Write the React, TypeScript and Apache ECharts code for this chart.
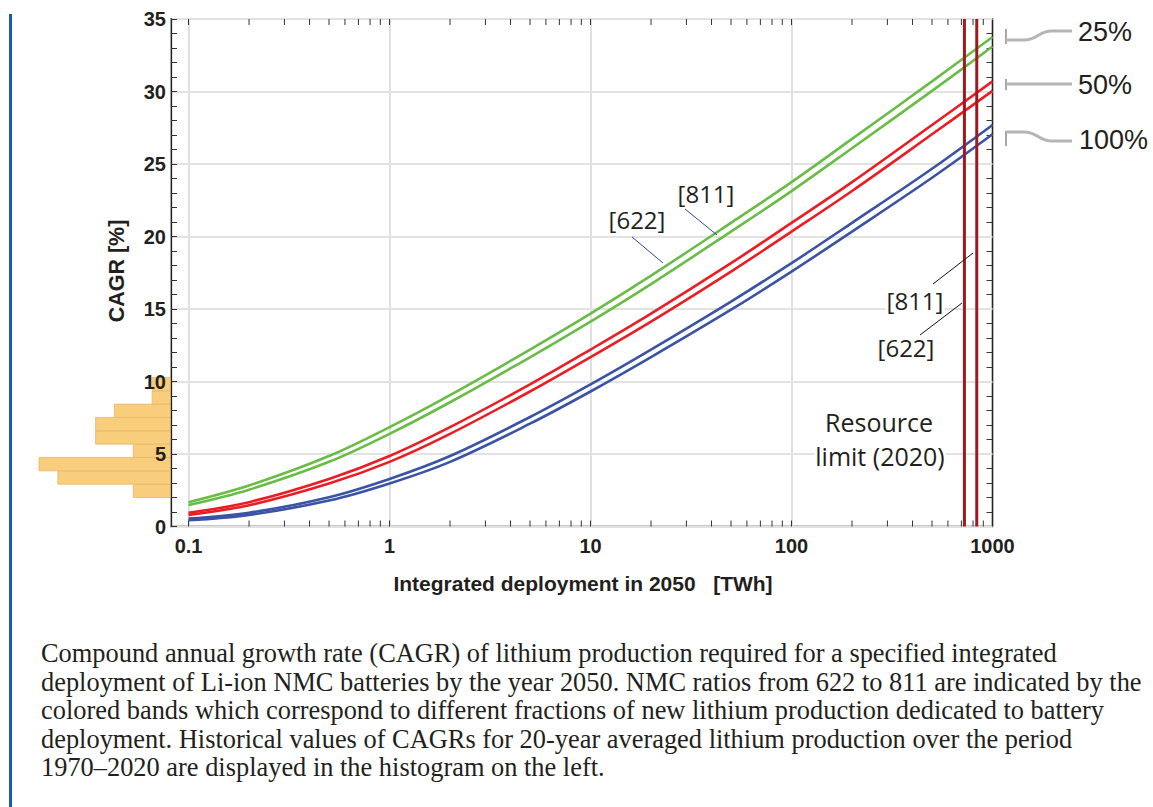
import React, { useEffect, useRef } from "react";
import * as echarts from "echarts";

// ---- axes ----
const X_MIN = 0.0818;
const X_MAX = 1000;
const Y_MIN = 0;
const Y_MAX = 35;
const Y_INTERVAL = 5;
const X_DECADES = [0.1, 1, 10, 100];
const X_MULTIPLIERS = [1, 2, 3, 4, 5, 6, 7, 8, 9];

// ---- curves: integrated deployment in 2050 [TWh] -> required CAGR [%] ----
const DEPLOYMENT_TWH = [0.1, 0.2, 0.5, 1, 2, 5, 10, 20, 50, 100, 200, 500, 1000];
const GREEN_622 = [1.68, 2.83, 4.86, 6.85, 9.06, 12.2, 14.68, 17.3, 20.94, 23.75, 26.73, 30.7, 33.76];
const GREEN_811 = [1.48, 2.54, 4.46, 6.39, 8.57, 11.67, 14.13, 16.72, 20.34, 23.13, 26.09, 30.04, 33.1];
const RED_622 = [0.95, 1.68, 3.28, 4.86, 6.85, 9.8, 12.2, 14.68, 18.16, 20.94, 23.75, 27.69, 30.7];
const RED_811 = [0.8, 1.47, 2.97, 4.46, 6.39, 9.31, 11.68, 14.13, 17.58, 20.34, 23.14, 27.05, 30.04];
const BLUE_622 = [0.55, 0.95, 2.02, 3.28, 4.86, 7.55, 9.8, 12.2, 15.51, 18.16, 20.94, 24.67, 27.69];
const BLUE_811 = [0.43, 0.8, 1.79, 2.97, 4.46, 7.09, 9.31, 11.68, 14.95, 17.58, 20.34, 24.05, 27.05];

// ---- resource limits (2020) [TWh] for 622 and 811 ----
const RESOURCE_LIMITS = [725, 835];

// ---- histogram of historical 20-year CAGRs ----
const HIST_EDGES = [2.0, 2.92, 3.84, 4.76, 5.68, 6.6, 7.52, 8.44, 9.36, 10.28];
const HIST_COUNTS = [2, 6, 7, 2, 4, 4, 3, 1, 1];
const HIST_MAX = 7;

const CAPTION = [
  "Compound annual growth rate (CAGR) of lithium production required for a specified integrated",
  "deployment of Li-ion NMC batteries by the year 2050. NMC ratios from 622 to 811 are indicated by the",
  "colored bands which correspond to different fractions of new lithium production dedicated to battery",
  "deployment. Historical values of CAGRs for 20-year averaged lithium production over the period",
  "1970–2020 are displayed in the histogram on the left.",
];

const GREEN = "#69BC45";
const RED = "#EC1C24";
const BLUE = "#3A53A4";
const DARKRED = "#9E1A1E";
const INK = "#231F20";
const SANS = '"Liberation Sans", Arial, sans-serif';
const HUMAN = '"Open Sans", "Noto Sans", sans-serif';
const SERIF = '"Liberation Serif", "Times New Roman", serif';
const GRAY = "#B4B5B9";

function curve(name: string, ys: number[], color: string) {
  return {
    type: "line",
    name,
    xAxisIndex: 0,
    yAxisIndex: 0,
    data: DEPLOYMENT_TWH.map((x, i) => [x, ys[i]]),
    smooth: 0.35,
    symbol: "none",
    showSymbol: false,
    lineStyle: { color, width: 2.6 },
    z: 3,
  };
}

export default function App() {
  const ref = useRef<HTMLDivElement>(null);

  useEffect(() => {
    if (!ref.current) return;
    const chart = echarts.init(ref.current, undefined, { renderer: "svg" });

    const tickValues: number[][] = [];
    X_DECADES.forEach((d) =>
      X_MULTIPLIERS.forEach((m) => tickValues.push([Number((d * m).toPrecision(6)), 0]))
    );

    const histData = HIST_COUNTS.map((c, i) => [HIST_EDGES[i], HIST_EDGES[i + 1], c]);

    const limitSeries = RESOURCE_LIMITS.map((v, i) => ({
      type: "line",
      name: "limit" + i,
      xAxisIndex: 0,
      yAxisIndex: 0,
      data: [
        [v, Y_MIN],
        [v, Y_MAX],
      ],
      symbol: "none",
      showSymbol: false,
      lineStyle: { color: DARKRED, width: 3 },
      z: 5,
    }));

    const t = (text: string, x: number, y: number, font: string, align = "center", extra: any = {}, bg = false) => ({
      type: "text",
      x,
      y,
      z: 100,
      silent: true,
      ...extra,
      style: {
        text,
        font,
        fill: INK,
        align,
        verticalAlign: "middle",
        ...(bg ? { backgroundColor: "#ffffff", padding: [0, 1] } : {}),
      },
    });
    const ln = (x1: number, y1: number, x2: number, y2: number, stroke: string, lineWidth: number) => ({
      type: "line",
      z: 100,
      silent: true,
      shape: { x1, y1, x2, y2 },
      style: { stroke, lineWidth },
    });
    const bz = (x1: number, y1: number, x2: number, y2: number) => ({
      type: "bezierCurve",
      z: 100,
      silent: true,
      shape: { x1, y1, x2, y2, cpx1: (x1 + x2) / 2, cpy1: y1, cpx2: (x1 + x2) / 2, cpy2: y2 },
      style: { stroke: GRAY, lineWidth: 3, fill: "none" },
    });

    const graphic: any[] = [
      { type: "rect", silent: true, shape: { x: 9, y: 14, width: 3, height: 793 }, style: { fill: "#1D5AA5" } },
      t("CAGR [%]", 117, 271, `bold 21.5px ${SANS}`, "center", { rotation: Math.PI / 2 }),
      t("Integrated deployment in 2050   [TWh]", 583, 583, `bold 21px ${SANS}`),
      // in-plot labels
      t("[811]", 706, 193, `24px ${HUMAN}`, "center", {}, true),
      t("[622]", 637, 219, `24px ${HUMAN}`, "center", {}, true),
      ln(685, 209, 717, 235, "#2B4A9B", 1),
      ln(632, 237, 663, 263, "#2B4A9B", 1),
      t("[811]", 915, 300, `24px ${HUMAN}`, "center", {}, true),
      t("[622]", 906, 347, `24px ${HUMAN}`, "center", {}, true),
      ln(933, 284, 973, 253, "#111", 1),
      ln(920, 335, 962, 303, "#111", 1),
      t("Resource", 879, 422, `25px ${HUMAN}`, "center", {}, true),
      t("limit (2020)", 880, 456, `25px ${HUMAN}`, "center", {}, true),
      // right-side fraction labels
      ln(1006, 29, 1006, 44, "#8A8A8D", 1.5),
      ln(1006, 40, 1024, 40, GRAY, 3),
      bz(1024, 40, 1052, 31),
      ln(1052, 31, 1072, 31, GRAY, 3),
      t("25%", 1078, 32, `27px ${SANS}`, "left"),
      ln(1006, 79, 1006, 90, "#8A8A8D", 1.5),
      ln(1006, 84, 1072, 84, GRAY, 3),
      t("50%", 1078, 85, `27px ${SANS}`, "left"),
      ln(1006, 131, 1006, 146, "#8A8A8D", 1.5),
      ln(1006, 132, 1024, 132, GRAY, 3),
      bz(1024, 132, 1052, 141),
      ln(1052, 141, 1072, 141, GRAY, 3),
      t("100%", 1079, 140, `27px ${SANS}`, "left"),
    ];
    CAPTION.forEach((line, i) => {
      graphic.push(t(line, 41, 653 + i * 28.6, `26.4px ${SERIF}`, "left"));
    });

    const option: any = {
      animation: false,
      backgroundColor: "#ffffff",
      textStyle: { fontFamily: SANS },
      grid: [
        {
          left: 171,
          top: 19,
          width: 821.5,
          height: 507.5,
          show: true,
          borderColor: "#222",
          borderWidth: 1.3,
          backgroundColor: "transparent",
        },
        { left: 39, top: 19, width: 132, height: 507.5, show: false },
      ],
      xAxis: [
        {
          type: "log",
          logBase: 10,
          gridIndex: 0,
          min: X_MIN,
          max: X_MAX,
          axisLine: { show: false },
          axisTick: { show: false },
          axisLabel: {
            showMinLabel: false,
            showMaxLabel: true,
            color: INK,
            fontSize: 20,
            fontWeight: "bold",
            fontFamily: SANS,
            margin: 9,
            formatter: (v: number) => String(Number(Number(v).toPrecision(6))),
          },
          splitLine: { show: true, lineStyle: { color: "#D6D6D6", width: 1.5 } },
        },
        { type: "value", gridIndex: 1, min: 0, max: HIST_MAX, inverse: true, show: false },
      ],
      yAxis: [
        {
          type: "value",
          gridIndex: 0,
          min: Y_MIN,
          max: Y_MAX,
          interval: Y_INTERVAL,
          z: 1,
          axisLine: { show: true, lineStyle: { color: "#222", width: 1.3 } },
          axisTick: { show: true, inside: true, length: 6, lineStyle: { color: "#333" } },
          minorTick: { show: true, splitNumber: 5, length: 6, lineStyle: { color: "#333" } },
          axisLabel: { color: INK, fontSize: 20, fontWeight: "bold", fontFamily: SANS, margin: 5 },
          splitLine: { show: true, lineStyle: { color: "#E2E2E2", width: 2 } },
        },
        {
          type: "value",
          gridIndex: 0,
          position: "right",
          min: Y_MIN,
          max: Y_MAX,
          interval: Y_INTERVAL,
          axisLine: { show: true, lineStyle: { color: "#222", width: 1.3 } },
          axisTick: { show: true, inside: true, length: 6, lineStyle: { color: "#333" } },
          minorTick: { show: true, splitNumber: 5, length: 6, lineStyle: { color: "#333" } },
          axisLabel: { show: false },
          splitLine: { show: false },
        },
        { type: "value", gridIndex: 1, min: Y_MIN, max: Y_MAX, show: false },
      ],
      series: [
        {
          type: "custom",
          name: "histogram",
          xAxisIndex: 1,
          yAxisIndex: 2,
          z: 0,
          encode: { x: 2, y: [0, 1] },
          data: histData,
          renderItem: (params: any, api: any) => {
            const y0 = api.value(0);
            const y1 = api.value(1);
            const c = api.value(2);
            const a = api.coord([c, y1]);
            const b = api.coord([0, y0]);
            return {
              type: "rect",
              shape: {
                x: Math.min(a[0], b[0]),
                y: Math.min(a[1], b[1]),
                width: Math.abs(b[0] - a[0]),
                height: Math.abs(b[1] - a[1]),
              },
              style: { fill: "#F8CD7B", stroke: "#E3B96C", lineWidth: 0.8 },
            };
          },
        },
        {
          type: "custom",
          name: "xticks",
          xAxisIndex: 0,
          yAxisIndex: 0,
          z: 2,
          encode: { x: 0, y: 1 },
          data: tickValues,
          renderItem: (params: any, api: any) => {
            const v = api.value(0);
            const bot = api.coord([v, Y_MIN]);
            const top = api.coord([v, Y_MAX]);
            const st = { stroke: "#333", lineWidth: 1 };
            return {
              type: "group",
              children: [
                { type: "line", shape: { x1: bot[0], y1: bot[1], x2: bot[0], y2: bot[1] - 6 }, style: st },
                { type: "line", shape: { x1: top[0], y1: top[1], x2: top[0], y2: top[1] + 6 }, style: st },
              ],
            };
          },
        },
        curve("green 622", GREEN_622, GREEN),
        curve("green 811", GREEN_811, GREEN),
        curve("red 622", RED_622, RED),
        curve("red 811", RED_811, RED),
        curve("blue 622", BLUE_622, BLUE),
        curve("blue 811", BLUE_811, BLUE),
        ...limitSeries,
      ],
      graphic,
    };

    chart.setOption(option);
    return () => chart.dispose();
  }, []);

  return (
    <div
      ref={ref}
      style={{ position: "fixed", left: 0, top: 0, width: 1153, height: 807, background: "#fff" }}
    />
  );
}
